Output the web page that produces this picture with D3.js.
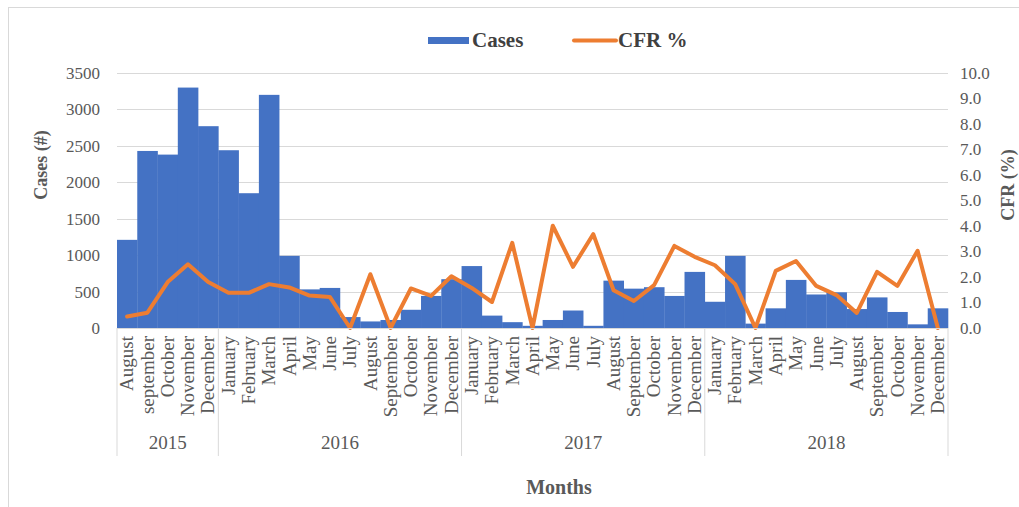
<!DOCTYPE html>
<html>
<head>
<meta charset="utf-8">
<script src="https://cdnjs.cloudflare.com/ajax/libs/d3/7.8.5/d3.min.js"></script>
<style>
  body { margin: 0; background: #fff; }
  text { font-family: "Liberation Serif", "Times New Roman", serif; }
</style>
</head>
<body>
<script>
//Data
var months = ["August", "september", "October", "November", "December",
  "January", "February", "March", "April", "May", "June", "July", "August", "September", "October", "November", "December",
  "January", "February", "March", "April", "May", "June", "July", "August", "September", "October", "November", "December",
  "January", "February", "March", "April", "May", "June", "July", "August", "September", "October", "November", "December"];
var years = ["2015", "2016", "2017", "2018"];
var monthsPerYear = [5, 12, 12, 12];
var cases = [1210, 2430, 2380, 3300, 2770,
  2440, 1850, 3200, 990, 530, 550, 150, 90, 110, 250, 440, 670,
  850, 170, 80, 30, 110, 240, 30, 650, 540, 560, 440, 770,
  360, 990, 60, 270, 660, 460, 490, 260, 420, 220, 50, 270];
var cfr = [0.45, 0.6, 1.8, 2.5, 1.8,
  1.38, 1.38, 1.72, 1.59, 1.27, 1.22, 0, 2.11, 0, 1.55, 1.26, 2.03,
  1.57, 1.02, 3.34, 0, 4.01, 2.4, 3.68, 1.48, 1.06, 1.68, 3.22, 2.79,
  2.46, 1.72, 0, 2.24, 2.63, 1.65, 1.29, 0.59, 2.2, 1.65, 3.03, 0];
var casesTicks = [0, 500, 1000, 1500, 2000, 2500, 3000, 3500];
var cfrTicks = [0, 1, 2, 3, 4, 5, 6, 7, 8, 9, 10];

//Define Size
var W = 1019, H = 507;
var plot = {left: 117, right: 948, top: 73, bottom: 328};

var svg = d3.select("body")
  .append("svg")
  .attr("width", W)
  .attr("height", H);

//Frame
svg.append("rect")
  .attr("x", 8.5).attr("y", 7.5)
  .attr("width", W).attr("height", H)
  .attr("fill", "none")
  .attr("stroke", "#d9d9d9");

//Define Scales
var idx = d3.range(cases.length);
var xScale = d3.scaleBand().domain(idx).range([plot.left, plot.right]).padding(0);
var yScale = d3.scaleLinear().domain([0, 3500]).range([plot.bottom, plot.top]);
var y2Scale = d3.scaleLinear().domain([0, 10]).range([plot.bottom, plot.top]);

//Gridlines
svg.append("g")
  .selectAll("line")
  .data(casesTicks.slice(1))
  .enter().append("line")
  .attr("x1", plot.left).attr("x2", plot.right)
  .attr("y1", function(d) { return Math.round(yScale(d)) + 0.5; })
  .attr("y2", function(d) { return Math.round(yScale(d)) + 0.5; })
  .attr("stroke", "#d9d9d9")
  .attr("stroke-width", 1);

//Left axis
var yAxis = d3.axisLeft(yScale).tickValues(casesTicks).tickSize(0).tickPadding(17)
  .tickFormat(d3.format("d"));
var gY = svg.append("g")
  .attr("transform", "translate(" + plot.left + ",0)")
  .call(yAxis);
gY.select(".domain").remove();
gY.selectAll("text")
  .attr("font-family", "Liberation Serif")
  .attr("font-size", "17px")
  .attr("fill", "#595959");

//Right axis
var y2Axis = d3.axisRight(y2Scale).tickValues(cfrTicks).tickSize(0).tickPadding(12)
  .tickFormat(d3.format(".1f"));
var gY2 = svg.append("g")
  .attr("transform", "translate(" + plot.right + ",0)")
  .call(y2Axis);
gY2.select(".domain").remove();
gY2.selectAll("text")
  .attr("font-family", "Liberation Serif")
  .attr("font-size", "17px")
  .attr("fill", "#595959");

//Bars
svg.selectAll(".bar")
  .data(idx)
  .enter().append("rect")
  .attr("class", "bar")
  .attr("x", function(i) { return xScale(i); })
  .attr("width", xScale.bandwidth() + 0.3)
  .attr("y", function(i) { return yScale(cases[i]); })
  .attr("height", function(i) { return plot.bottom - yScale(cases[i]); })
  .attr("fill", "#4472c4");

//CFR line
var line = d3.line()
  .x(function(i) { return xScale(i) + xScale.bandwidth() / 2; })
  .y(function(i) { return y2Scale(cfr[i]); });

svg.append("path")
  .datum(idx)
  .attr("d", line)
  .attr("fill", "none")
  .attr("stroke", "#ed7d31")
  .attr("stroke-width", 4)
  .attr("stroke-linejoin", "round")
  .attr("stroke-linecap", "round");

//Category axis line
svg.append("line")
  .attr("x1", plot.left).attr("x2", plot.right)
  .attr("y1", plot.bottom + 0.5).attr("y2", plot.bottom + 0.5)
  .attr("stroke", "#d9d9d9");

//Month labels
svg.selectAll(".month")
  .data(idx)
  .enter().append("text")
  .attr("class", "month")
  .attr("transform", function(i) {
    return "translate(" + (xScale(i) + xScale.bandwidth() / 2) + "," + (plot.bottom + 8) + ") rotate(-90)";
  })
  .attr("dy", "0.33em")
  .style("text-anchor", "end")
  .attr("font-size", "19px")
  .attr("fill", "#595959")
  .text(function(i) { return months[i]; });

//Year groups
var starts = [0];
monthsPerYear.forEach(function(n, k) { starts.push(starts[k] + n); });

svg.selectAll(".sep")
  .data(starts)
  .enter().append("line")
  .attr("class", "sep")
  .attr("x1", function(s) { return s < cases.length ? xScale(s) : plot.right; })
  .attr("x2", function(s) { return s < cases.length ? xScale(s) : plot.right; })
  .attr("y1", plot.bottom)
  .attr("y2", 456)
  .attr("stroke", "#d9d9d9");

svg.selectAll(".year")
  .data(years)
  .enter().append("text")
  .attr("class", "year")
  .attr("x", function(d, k) {
    var a = xScale(starts[k]);
    var b = starts[k + 1] < cases.length ? xScale(starts[k + 1]) : plot.right;
    return (a + b) / 2;
  })
  .attr("y", 449)
  .style("text-anchor", "middle")
  .attr("font-size", "19px")
  .attr("fill", "#595959")
  .text(function(d) { return d; });

//Axis titles
svg.append("text")
  .attr("transform", "translate(47,165) rotate(-90)")
  .style("text-anchor", "middle")
  .attr("font-size", "18px")
  .attr("font-weight", "bold")
  .attr("fill", "#595959")
  .text("Cases (#)");

svg.append("text")
  .attr("transform", "translate(1014,185) rotate(-90)")
  .style("text-anchor", "middle")
  .attr("font-size", "18px")
  .attr("font-weight", "bold")
  .attr("fill", "#595959")
  .text("CFR (%)");

svg.append("text")
  .attr("x", 559)
  .attr("y", 494)
  .style("text-anchor", "middle")
  .attr("font-size", "20px")
  .attr("font-weight", "bold")
  .attr("fill", "#595959")
  .text("Months");

//Legend
svg.append("rect")
  .attr("x", 428).attr("y", 37)
  .attr("width", 41).attr("height", 7)
  .attr("fill", "#4472c4");

svg.append("text")
  .attr("x", 472).attr("y", 47)
  .attr("font-size", "21px")
  .attr("font-weight", "bold")
  .attr("fill", "#404040")
  .text("Cases");

svg.append("line")
  .attr("x1", 574).attr("x2", 616)
  .attr("y1", 40.5).attr("y2", 40.5)
  .attr("stroke", "#ed7d31")
  .attr("stroke-width", 4)
  .attr("stroke-linecap", "round");

svg.append("text")
  .attr("x", 618).attr("y", 47)
  .attr("font-size", "21px")
  .attr("font-weight", "bold")
  .attr("fill", "#404040")
  .text("CFR %");
</script>
</body>
</html>
